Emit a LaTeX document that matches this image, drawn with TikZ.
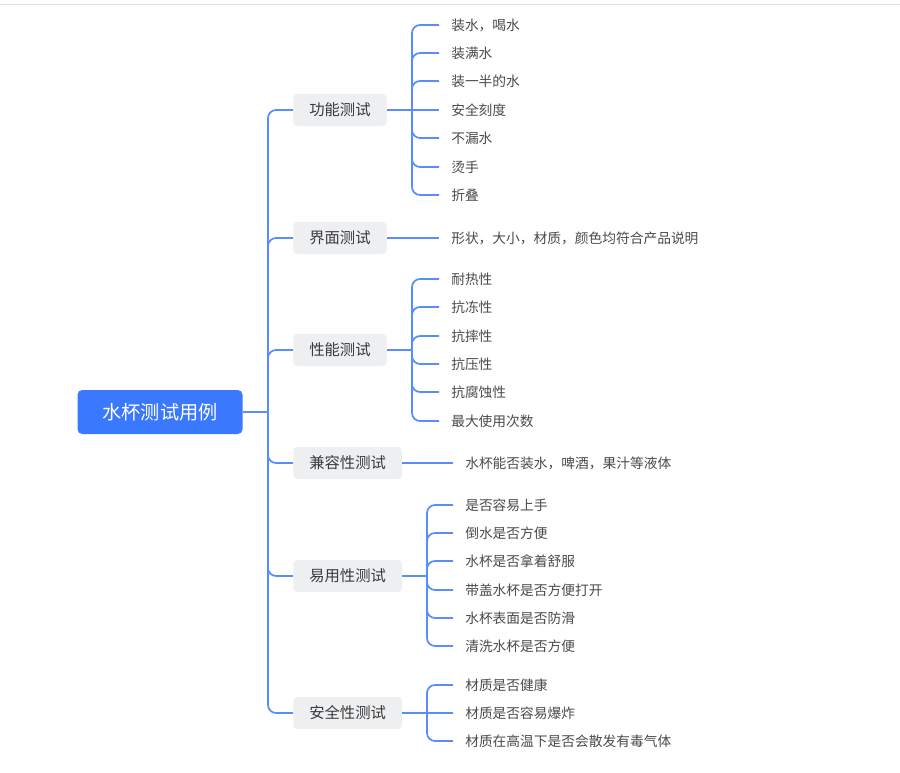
\documentclass[tikz,border=0pt]{standalone}
\usepackage{fontspec}
\setmainfont{Noto Sans CJK SC}
\usepackage{xcolor}
\usepackage{tikz}
\usetikzlibrary{positioning}

\definecolor{rootblue}{HTML}{3A78FE}
\definecolor{linkblue}{HTML}{5A8CFF}
\definecolor{boxgray}{HTML}{EEEFF1}
\definecolor{textgray}{HTML}{3A3A3A}
\definecolor{leafgray}{HTML}{4A4A4A}

\begin{document}
\begin{tikzpicture}[
    x=0.75pt, y=-0.75pt,
    root/.style={fill=rootblue, rounded corners=3.5pt, minimum width=123.75pt, minimum height=33pt, text=white, font=\fontsize{14.4pt}{16pt}\selectfont},
    topic/.style={fill=boxgray, rounded corners=3pt, minimum height=24pt, inner xsep=12pt, text=textgray, font=\fontsize{11.5pt}{13pt}\selectfont},
    leaf/.style={anchor=west, inner xsep=9pt, inner ysep=2pt, text=leafgray, font=\fontsize{10.3pt}{12pt}\selectfont},
    link/.style={draw=linkblue, line width=1.3pt, rounded corners=6pt},
]
\useasboundingbox (0,0) rectangle (900,772);
\draw[black!13, line width=0.8pt] (0,4.5) -- (900,4.5);

% Root
\node[root] (root) at (160, 412) {水杯测试用例};

% Topics
\node[topic, anchor=west] (gn) at (293, 110) {功能测试};
\node[topic, anchor=west] (jm) at (293, 238) {界面测试};
\node[topic, anchor=west] (xn) at (293, 350) {性能测试};
\node[topic, anchor=west] (jr) at (293, 463) {兼容性测试};
\node[topic, anchor=west] (yy) at (293, 576) {易用性测试};
\node[topic, anchor=west] (aq) at (293, 713) {安全性测试};

% Junctions
\coordinate (rj) at (268, 412);
\coordinate (gnj) at (412, 110);
\coordinate (xnj) at (412, 350);
\coordinate (yyj) at (427, 576);
\coordinate (aqj) at (427, 713);

% Leaves: function
\node[leaf] (gn1) at (439, 25) {装水，喝水};
\node[leaf] (gn2) at (439, 53) {装满水};
\node[leaf] (gn3) at (439, 81) {装一半的水};
\node[leaf] (gn4) at (439, 110) {安全刻度};
\node[leaf] (gn5) at (439, 138) {不漏水};
\node[leaf] (gn6) at (439, 167) {烫手};
\node[leaf] (gn7) at (439, 195) {折叠};

% Leaves: interface
\node[leaf] (jm1) at (439, 238) {形状，大小，材质，颜色均符合产品说明};

% Leaves: performance
\node[leaf] (xn1) at (439, 279) {耐热性};
\node[leaf] (xn2) at (439, 307) {抗冻性};
\node[leaf] (xn3) at (439, 336) {抗摔性};
\node[leaf] (xn4) at (439, 364) {抗压性};
\node[leaf] (xn5) at (439, 392) {抗腐蚀性};
\node[leaf] (xn6) at (439, 421) {最大使用次数};

% Leaves: compatibility
\node[leaf] (jr1) at (453, 463) {水杯能否装水，啤酒，果汁等液体};

% Leaves: usability
\node[leaf] (yy1) at (453, 505) {是否容易上手};
\node[leaf] (yy2) at (453, 533) {倒水是否方便};
\node[leaf] (yy3) at (453, 561) {水杯是否拿着舒服};
\node[leaf] (yy4) at (453, 590) {带盖水杯是否方便打开};
\node[leaf] (yy5) at (453, 618) {水杯表面是否防滑};
\node[leaf] (yy6) at (453, 646) {清洗水杯是否方便};

% Leaves: safety
\node[leaf] (aq1) at (453, 685) {材质是否健康};
\node[leaf] (aq2) at (453, 713) {材质是否容易爆炸};
\node[leaf] (aq3) at (453, 741) {材质在高温下是否会散发有毒气体};

% Root links
\draw[link] (root) -- (rj);
\draw[link] (rj) |- (gn.west);
\draw[link] (rj) |- (jm.west);
\draw[link] (rj) |- (xn.west);
\draw[link] (rj) |- (jr.west);
\draw[link] (rj) |- (yy.west);
\draw[link] (rj) |- (aq.west);

% Function links
\draw[link] (gn) -- (gnj);
\draw[link] (gnj) |- (gn1.west);
\draw[link] (gnj) |- (gn2.west);
\draw[link] (gnj) |- (gn3.west);
\draw[link] (gnj) -- (gn4.west);
\draw[link] (gnj) |- (gn5.west);
\draw[link] (gnj) |- (gn6.west);
\draw[link] (gnj) |- (gn7.west);

% Interface and compatibility links
\draw[link] (jm) -- (jm1);
\draw[link] (jr) -- (jr1);

% Performance links
\draw[link] (xn) -- (xnj);
\draw[link] (xnj) |- (xn1.west);
\draw[link] (xnj) |- (xn2.west);
\draw[link] (xnj) |- (xn3.west);
\draw[link] (xnj) |- (xn4.west);
\draw[link] (xnj) |- (xn5.west);
\draw[link] (xnj) |- (xn6.west);

% Usability links
\draw[link] (yy) -- (yyj);
\draw[link] (yyj) |- (yy1.west);
\draw[link] (yyj) |- (yy2.west);
\draw[link] (yyj) |- (yy3.west);
\draw[link] (yyj) |- (yy4.west);
\draw[link] (yyj) |- (yy5.west);
\draw[link] (yyj) |- (yy6.west);

% Safety links
\draw[link] (aq) -- (aqj);
\draw[link] (aqj) |- (aq1.west);
\draw[link] (aqj) -- (aq2.west);
\draw[link] (aqj) |- (aq3.west);
\end{tikzpicture}
\end{document}
